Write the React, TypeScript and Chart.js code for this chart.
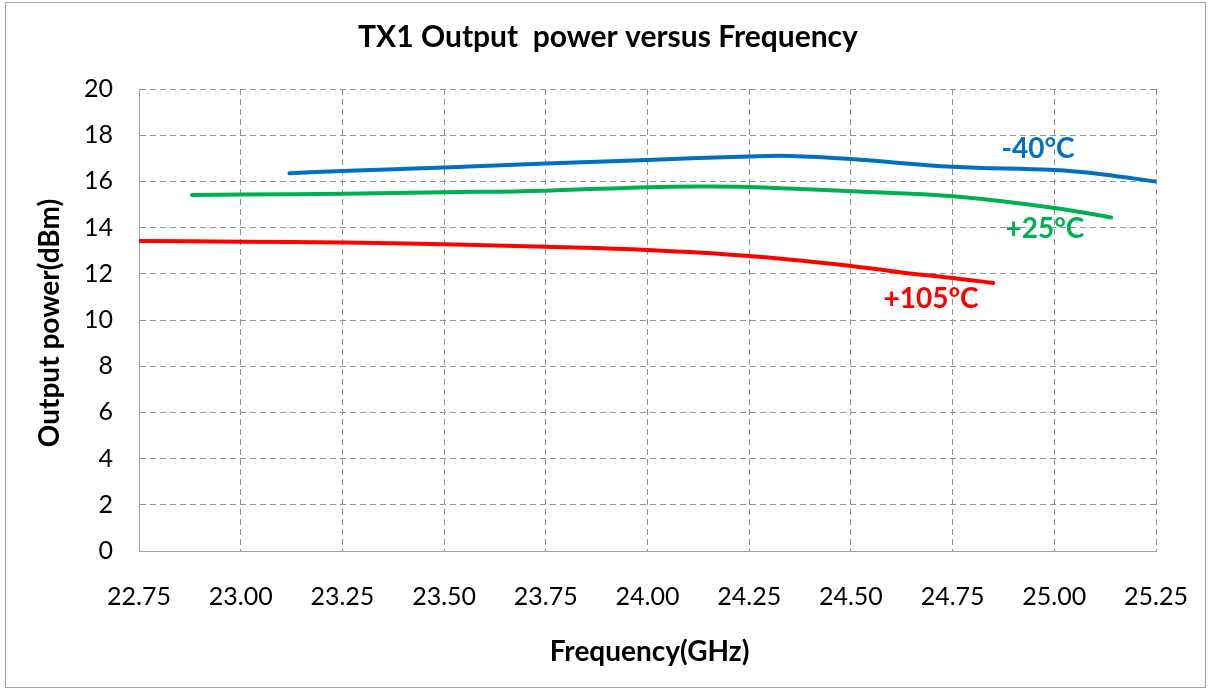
import React, { useEffect, useRef } from "react";
import { Chart, registerables } from "chart.js";

Chart.register(...registerables);

const chartTitle = "TX1 Output  power versus Frequency";
const xAxisTitle = "Frequency(GHz)";
const yAxisTitle = "Output power(dBm)";

const xTicks = [22.75, 23.0, 23.25, 23.5, 23.75, 24.0, 24.25, 24.5, 24.75, 25.0, 25.25];
const yTicks = [0, 2, 4, 6, 8, 10, 12, 14, 16, 18, 20];

const freqM40 = [23.12, 23.25, 23.5, 23.75, 24.0, 24.25, 24.35, 24.5, 24.75, 25.0, 25.12, 25.25];
const powerM40 = [16.35, 16.45, 16.6, 16.77, 16.93, 17.08, 17.1, 16.97, 16.63, 16.49, 16.3, 15.99];

const freqP25 = [22.88, 23.0, 23.25, 23.5, 23.75, 24.0, 24.12, 24.25, 24.5, 24.75, 25.0, 25.14];
const powerP25 = [15.41, 15.43, 15.47, 15.53, 15.6, 15.75, 15.78, 15.76, 15.57, 15.36, 14.85, 14.44];

const freqP105 = [22.75, 23.0, 23.25, 23.5, 23.75, 24.0, 24.25, 24.5, 24.62, 24.75, 24.85];
const powerP105 = [13.42, 13.39, 13.35, 13.28, 13.17, 13.03, 12.77, 12.34, 12.07, 11.82, 11.6];

const seriesNames = ["-40°C", "+25°C", "+105°C"];
const seriesColors = ["#0070C0", "#00B050", "#FF0000"];
const labelFreq = [24.96, 24.977, 24.697];
const labelPower = [17.4, 13.94, 10.91];

const FONT = "Lato, 'Open Sans', sans-serif";

export default function App() {
  const ref = useRef<HTMLCanvasElement | null>(null);

  useEffect(() => {
    const canvas = ref.current;
    if (!canvas) return;
    const toPts = (xs: number[], ys: number[]) => xs.map((x, i) => ({ x, y: ys[i] }));
    const series = [
      toPts(freqM40, powerM40),
      toPts(freqP25, powerP25),
      toPts(freqP105, powerP105),
    ];

    const textPlugin = {
      id: "textPlugin",
      afterDraw(chart: any) {
        const ctx = chart.ctx;
        const area = chart.chartArea;
        const xs = chart.scales.x;
        const ys = chart.scales.y;
        ctx.save();
        ctx.fillStyle = "#000";
        ctx.textAlign = "center";
        ctx.textBaseline = "alphabetic";
        ctx.font = `bold 30px ${FONT}`;
        ctx.fillText(chartTitle, 602, 44);
        ctx.font = `bold 28px ${FONT}`;
        ctx.fillText(xAxisTitle, (area.left + area.right) / 2 + 2, 658);
        ctx.save();
        ctx.translate(44, (area.top + area.bottom) / 2 + 3);
        ctx.rotate(-Math.PI / 2);
        ctx.textBaseline = "middle";
        ctx.fillText(yAxisTitle, 0, 0);
        ctx.restore();
        ctx.font = `bold 28px ${FONT}`;
        ctx.textBaseline = "middle";
        for (let i = 0; i < seriesNames.length; i++) {
          ctx.fillStyle = seriesColors[i];
          ctx.fillText(seriesNames[i], xs.getPixelForValue(labelFreq[i]), ys.getPixelForValue(labelPower[i]));
        }
        ctx.restore();
      },
    };

    const chart = new Chart(canvas, {
      type: "line",
      data: {
        datasets: series.map((d, i) => ({
          label: seriesNames[i],
          data: d,
          borderColor: seriesColors[i],
          backgroundColor: seriesColors[i],
          borderWidth: 4,
          borderCapStyle: "round",
          borderJoinStyle: "round",
          pointRadius: 0,
          tension: 0.4,
          fill: false,
        })),
      },
      options: {
        responsive: false,
        animation: false,
        devicePixelRatio: 1,
        layout: { padding: { top: 86, right: 49, left: 0, bottom: 0 } },
        plugins: {
          legend: { display: false },
          title: { display: false },
          tooltip: { enabled: false },
        },
        scales: {
          x: {
            type: "linear",
            min: xTicks[0],
            max: xTicks[xTicks.length - 1],
            afterBuildTicks: (scale: any) => {
              scale.ticks = xTicks.map((v) => ({ value: v }));
            },
            afterFit: (scale: any) => {
              scale.height = 136;
              scale.paddingLeft = 0;
              scale.paddingRight = 0;
            },
            ticks: {
              color: "#000",
              font: { family: FONT, size: 25 },
              padding: 31,
              maxRotation: 0,
              autoSkip: false,
              callback: (v: any) => Number(v).toFixed(2),
            },
            grid: {
              color: "#929292",
              lineWidth: 1,
              drawTicks: false,
            },
            border: { display: true, color: "#a0a0a0", width: 1, dash: [6, 4] },
          },
          y: {
            type: "linear",
            min: yTicks[0],
            max: yTicks[yTicks.length - 1],
            afterBuildTicks: (scale: any) => {
              scale.ticks = yTicks.map((v) => ({ value: v }));
            },
            afterFit: (scale: any) => {
              scale.width = 133;
              scale.paddingTop = 0;
              scale.paddingBottom = 0;
            },
            ticks: {
              color: "#000",
              font: { family: FONT, size: 25 },
              padding: 26,
              autoSkip: false,
            },
            grid: {
              color: "#929292",
              lineWidth: 1,
              drawTicks: false,
            },
            border: { display: true, color: "#a0a0a0", width: 1, dash: [6, 4] },
          },
        },
      },
      plugins: [textPlugin],
    } as any);

    return () => chart.destroy();
  }, []);

  return (
    <div
      style={{
        position: "fixed",
        left: 5,
        top: 2,
        width: 1201,
        height: 686,
        border: "1px solid #a6a6a6",
        boxSizing: "border-box",
        background: "#fff",
      }}
    >
      <canvas ref={ref} width={1199} height={684} style={{ display: "block" }} />
    </div>
  );
}
